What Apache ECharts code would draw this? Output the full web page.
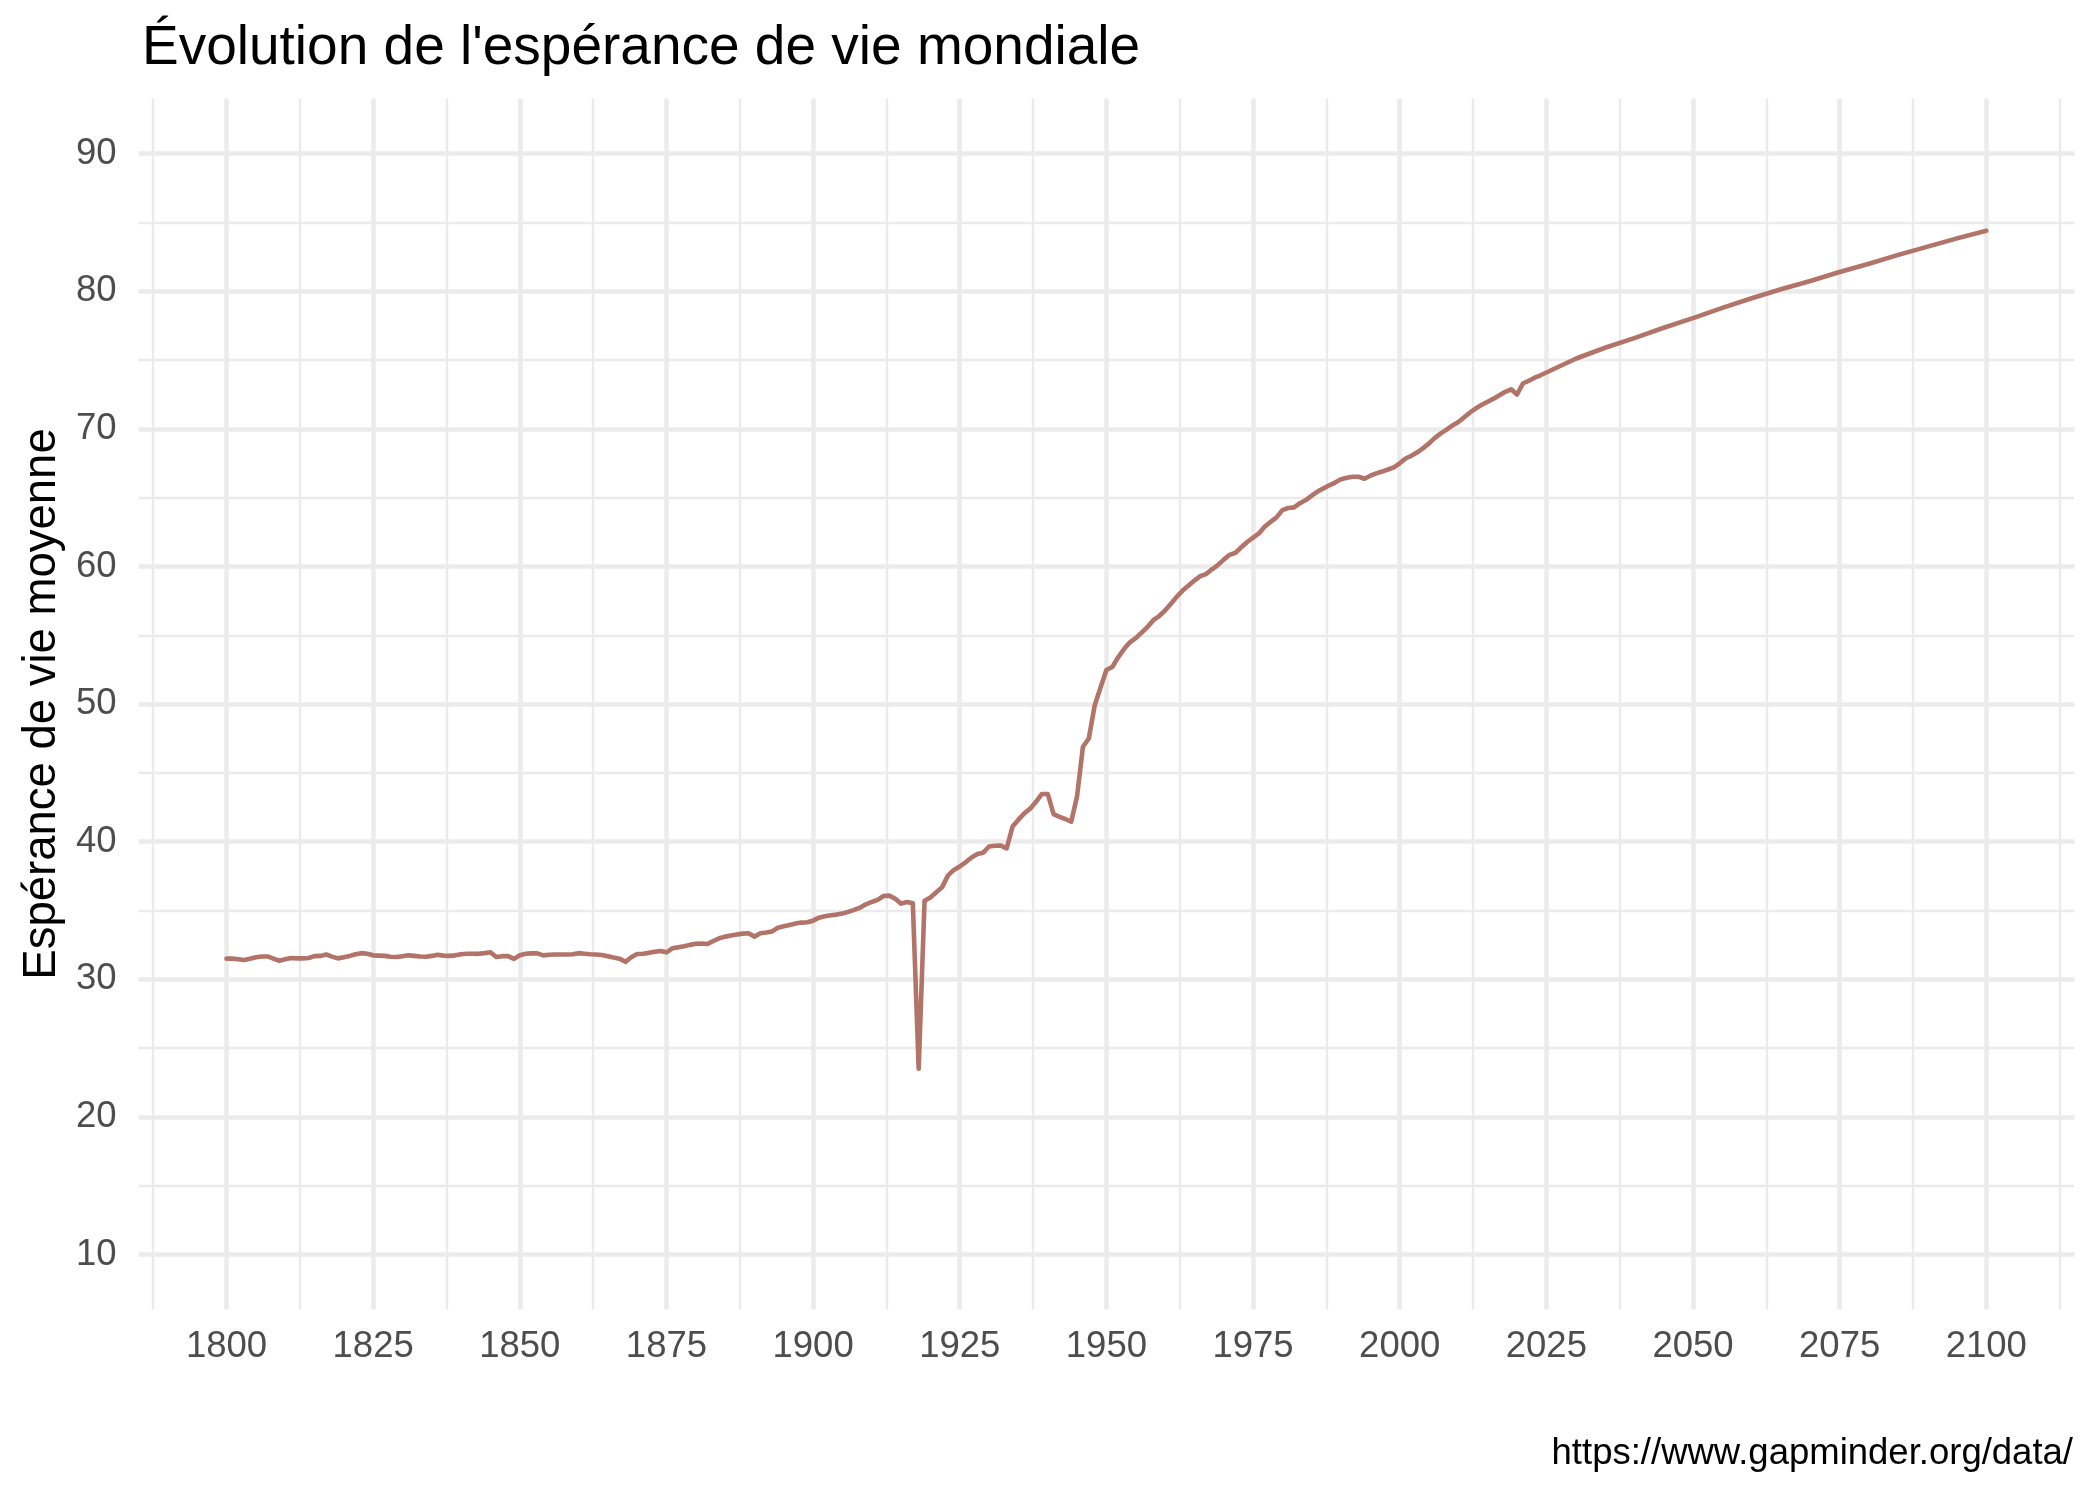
<!DOCTYPE html>
<html>
<head>
<meta charset="utf-8">
<title>Évolution de l'espérance de vie mondiale</title>
<script src="https://cdn.jsdelivr.net/npm/echarts@6/dist/echarts.min.js"></script>
<style>
  html, body { margin: 0; padding: 0; background: #fff; }
  #chart { width: 2099px; height: 1499px; }
</style>
</head>
<body>
<div id="chart"></div>
<script>
// espérance de vie annuelle, 1800 -> 2025
var firstYear = 1800;
var lifeExpYearly = [
	31.50, 31.50, 31.45, 31.40, 31.50, 31.60, 31.66, 31.66, 31.50, 31.35,
	31.45, 31.55, 31.52, 31.52, 31.55, 31.68, 31.70, 31.80, 31.65, 31.52,
	31.60, 31.70, 31.82, 31.90, 31.85, 31.74, 31.72, 31.70, 31.64, 31.62,
	31.68, 31.74, 31.70, 31.66, 31.64, 31.70, 31.78, 31.72, 31.70, 31.74,
	31.82, 31.86, 31.86, 31.85, 31.90, 31.96, 31.62, 31.68, 31.68, 31.48,
	31.75, 31.86, 31.88, 31.88, 31.74, 31.78, 31.80, 31.80, 31.80, 31.82,
	31.90, 31.86, 31.82, 31.80, 31.76, 31.68, 31.58, 31.50, 31.27, 31.60,
	31.84, 31.86, 31.92, 32.00, 32.06, 31.96, 32.25, 32.32, 32.40, 32.50,
	32.58, 32.60, 32.57, 32.78, 32.98, 33.10, 33.18, 33.26, 33.32, 33.34,
	33.10, 33.34, 33.40, 33.48, 33.75, 33.85, 33.95, 34.05, 34.12, 34.14,
	34.26, 34.48, 34.58, 34.65, 34.70, 34.78, 34.90, 35.05, 35.20, 35.45,
	35.62, 35.77, 36.05, 36.08, 35.85, 35.50, 35.62, 35.52, 23.50, 35.70,
	35.95, 36.32, 36.70, 37.55, 37.95, 38.20, 38.50, 38.85, 39.10, 39.20,
	39.65, 39.70, 39.72, 39.52, 41.10, 41.60, 42.06, 42.40, 42.90, 43.47,
	43.47, 42.00, 41.80, 41.65, 41.45, 43.30, 46.90, 47.50, 49.90, 51.20,
	52.48, 52.70, 53.40, 54.00, 54.49, 54.80, 55.20, 55.60, 56.10, 56.40,
	56.80, 57.30, 57.80, 58.25, 58.62, 58.98, 59.30, 59.45, 59.80, 60.10,
	60.50, 60.85, 61.00, 61.40, 61.78, 62.10, 62.40, 62.90, 63.25, 63.57,
	64.10, 64.25, 64.30, 64.60, 64.83, 65.15, 65.45, 65.68, 65.90, 66.10,
	66.35, 66.45, 66.52, 66.52, 66.38, 66.60, 66.77, 66.90, 67.05, 67.20,
	67.50, 67.85, 68.05, 68.30, 68.60, 68.95, 69.35, 69.68, 69.95, 70.25,
	70.50, 70.85, 71.20, 71.50, 71.75, 71.98, 72.20, 72.45, 72.70, 72.88,
	72.50, 73.30, 73.50, 73.72, 73.90, 74.10
];

// projection
var projYears = [2030, 2035, 2040, 2045, 2050, 2055, 2060, 2065, 2070, 2075, 2080, 2085, 2090, 2095, 2100];
var projValues = [75.10, 75.90, 76.60, 77.35, 78.05, 78.80, 79.50, 80.15, 80.75, 81.40, 82.00, 82.65, 83.25, 83.85, 84.40];

var xTicks = [1800, 1825, 1850, 1875, 1900, 1925, 1950, 1975, 2000, 2025, 2050, 2075, 2100];
var xMinor = [1787.5, 1812.5, 1837.5, 1862.5, 1887.5, 1912.5, 1937.5, 1962.5, 1987.5, 2012.5, 2037.5, 2062.5, 2087.5, 2112.5];
var yTicks = [10, 20, 30, 40, 50, 60, 70, 80, 90];
var yMinor = [15, 25, 35, 45, 55, 65, 75, 85];

var FONT = "'Liberation Sans', Arial, Helvetica, sans-serif";
var GRID_COL = '#ebebeb';

var lineData = [];
lifeExpYearly.map(function (v, k) {
	lineData.push([firstYear + k, v]);
});
projYears.map(function (y, k) {
	lineData.push([y, projValues[k]]);
});

//lignes de grille (majeures + mineures)
var gridMarks = [];
xMinor.map(function (v) {
	gridMarks.push({ xAxis: v, lineStyle: { width: 2.4 } });
});
yMinor.map(function (v) {
	gridMarks.push({ yAxis: v, lineStyle: { width: 2.4 } });
});
xTicks.map(function (v) {
	gridMarks.push({ xAxis: v, lineStyle: { width: 4.6 } });
});
yTicks.map(function (v) {
	gridMarks.push({ yAxis: v, lineStyle: { width: 4.6 } });
});

var chart = echarts.init(document.getElementById('chart'), null, { renderer: 'canvas' });

var option = {
	backgroundColor: '#ffffff',
	animation: false,
	grid: {
		left: 138.5,
		right: 24.7,
		top: 98.7,
		bottom: 189.5,
		containLabel: false
	},
	xAxis: {
		type: 'value',
		min: 1785,
		max: 2115,
		axisLine: { show: false },
		axisTick: { show: false },
		splitLine: { show: false },
		axisLabel: {
			customValues: xTicks,
			formatter: function (v) { return String(v); },
			color: '#4d4d4d',
			fontSize: 36.5,
			fontFamily: FONT,
			margin: 19
		}
	},
	yAxis: {
		type: 'value',
		min: 6,
		max: 94,
		axisLine: { show: false },
		axisTick: { show: false },
		splitLine: { show: false },
		axisLabel: {
			customValues: yTicks,
			formatter: function (v) { return String(v); },
			color: '#4d4d4d',
			fontSize: 36.5,
			fontFamily: FONT,
			margin: 22
		}
	},
	graphic: [
		{
			type: 'text',
			left: 142,
			top: 21,
			style: {
				text: "Évolution de l'espérance de vie mondiale",
				fill: '#000',
				font: '55px ' + FONT
			}
		},
		{
			type: 'text',
			x: 42,
			y: 704,
			rotation: Math.PI / 2,
			style: {
				text: 'Espérance de vie moyenne',
				fill: '#000',
				font: '45.5px ' + FONT,
				align: 'center',
				verticalAlign: 'middle'
			}
		},
		{
			type: 'text',
			x: 2073,
			y: 1454,
			style: {
				text: 'https://www.gapminder.org/data/',
				fill: '#000',
				font: '36.5px ' + FONT,
				align: 'right',
				verticalAlign: 'middle'
			}
		}
	],
	series: [
		{
			name: 'grille',
			type: 'line',
			data: [],
			z: 1,
			silent: true,
			markLine: {
				z: 1,
				silent: true,
				symbol: ['none', 'none'],
				label: { show: false },
				lineStyle: { color: GRID_COL, type: 'solid' },
				emphasis: { disabled: true },
				animation: false,
				data: gridMarks
			}
		},
		{
			name: 'Espérance de vie',
			type: 'line',
			data: lineData,
			z: 10,
			showSymbol: false,
			symbol: 'none',
			lineStyle: {
				color: '#b27369',
				width: 4.6,
				join: 'round',
				cap: 'round'
			}
		}
	]
};

chart.setOption(option);
</script>
</body>
</html>
